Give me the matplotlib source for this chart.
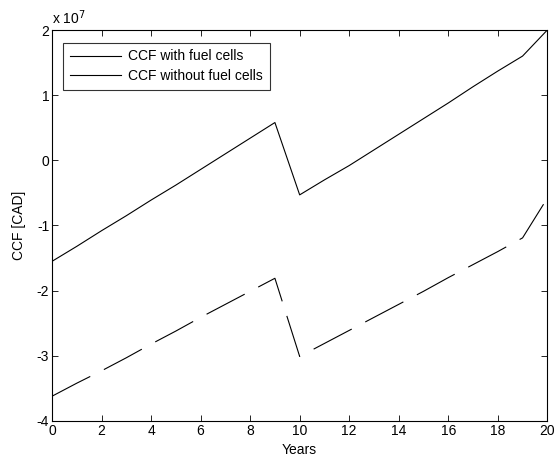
import matplotlib
matplotlib.use('Agg')
import matplotlib.pyplot as plt
from matplotlib.lines import Line2D
from matplotlib.ticker import FuncFormatter

plt.rcParams['font.family'] = ['Liberation Sans', 'DejaVu Sans']
plt.rcParams['lines.scale_dashes'] = False

# cumulative cash flow, in units of 1e7 CAD
years = list(range(0, 21))
ccf_with = [-1.55, -1.32, -1.08, -0.85, -0.61, -0.38, -0.14, 0.10, 0.34, 0.58,
            -0.53, -0.30, -0.08, 0.16, 0.40, 0.64, 0.88, 1.13, 1.37, 1.60, 2.00]
ccf_without = [-3.62, -3.42, -3.23, -3.03, -2.82, -2.62, -2.41, -2.21, -2.01, -1.81,
               -3.01, -2.81, -2.61, -2.41, -2.21, -2.01, -1.80, -1.60, -1.40, -1.19, -0.58]
scale = 1e7

fig = plt.figure(figsize=(5.55, 4.66), dpi=100)
ax = fig.add_axes([0.0937, 0.0966, 0.8925, 0.839])

ax.plot(years, [v * scale for v in ccf_with], color='black', lw=0.8)
ax.plot(years, [v * scale for v in ccf_without], color='black', lw=0.8,
        dashes=(31, 11))

ax.set_xlim(0, 20)
ax.set_ylim(-4e7, 2e7)
ax.set_xticks(range(0, 21, 2))
ax.set_yticks([i * scale for i in range(-4, 3)])
ax.yaxis.set_major_formatter(FuncFormatter(lambda v, p: '%d' % round(v / scale)))
ax.tick_params(direction='in', top=True, right=True, length=4, width=0.6,
               labelsize=10, pad=2)
for s in ax.spines.values():
    s.set_linewidth(0.8)

ax.text(0.0, 1.008, r'x 10$^7$', transform=ax.transAxes, fontsize=10,
        ha='left', va='bottom')
ax.set_xlabel('Years', fontsize=10, labelpad=4)
ax.set_ylabel('CCF [CAD]', fontsize=10, labelpad=8)

# legend lines are drawn solid for both series, as in the original
handles = [Line2D([], [], color='black', lw=0.8),
           Line2D([], [], color='black', lw=0.8)]
leg = ax.legend(handles, ['CCF with fuel cells', 'CCF without fuel cells'],
                loc='upper left', bbox_to_anchor=(0.022, 0.968), fontsize=10,
                frameon=True, fancybox=False, handlelength=3.7,
                borderpad=0.5, labelspacing=0.4, handletextpad=0.5,
                borderaxespad=0)
leg.get_frame().set_edgecolor('black')
leg.get_frame().set_linewidth(0.8)

fig.savefig('out.png', dpi=100)
